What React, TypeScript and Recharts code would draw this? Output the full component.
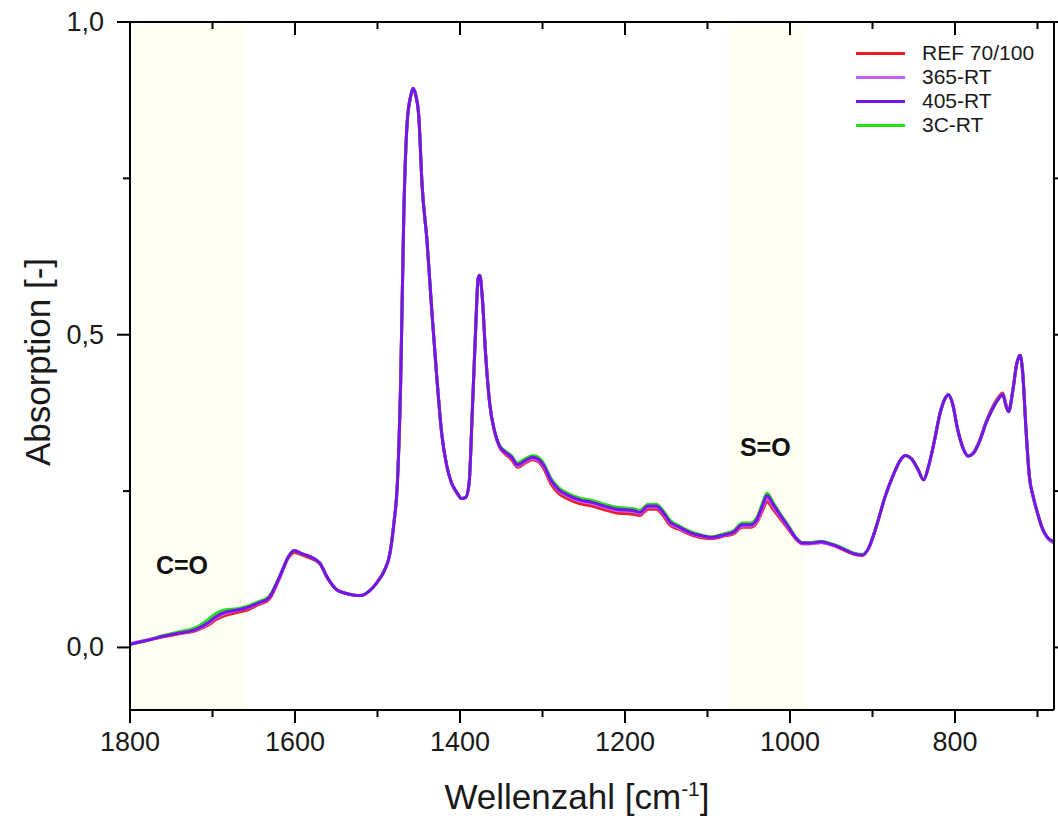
import React from 'react';
import { LineChart, Line, XAxis, YAxis, ReferenceArea, ReferenceDot, Legend } from 'recharts';

// wavenumbers in cm^-1 (x axis runs from 1800 down to 680)
const wavenumbers = [
  1800, 1780, 1760, 1740, 1720, 1705, 1695, 1685, 1670, 1660,
  1645, 1632, 1618, 1608, 1601, 1592, 1580, 1570, 1560, 1550,
  1540, 1530, 1520, 1510, 1500, 1492, 1485, 1480, 1476, 1472,
  1468, 1464, 1460, 1457, 1454, 1450, 1446, 1440, 1434, 1428,
  1422, 1416, 1410, 1404, 1398, 1393, 1389, 1385, 1381, 1378,
  1376, 1373, 1369, 1364, 1358, 1352, 1345, 1338, 1330, 1322,
  1312, 1305, 1298, 1290, 1280, 1270, 1255, 1240, 1225, 1210,
  1200, 1190, 1182, 1172, 1162, 1155, 1145, 1135, 1120, 1105,
  1095, 1080, 1068, 1058, 1048, 1040, 1033, 1028, 1020, 1012,
  1002, 994, 985, 975, 962, 950, 940, 930, 920, 912,
  905, 895, 885, 875, 866, 860, 853, 845, 838, 832,
  825, 818, 812, 808, 803, 797, 790, 784, 778, 770,
  762, 755, 748, 742, 738, 735, 730, 725, 721, 718,
  714, 710, 705, 700, 694, 688, 683, 680,
];

const ref70100 = [
  0.005, 0.011, 0.017, 0.022, 0.027, 0.036, 0.045, 0.051, 0.056, 0.059,
  0.068, 0.076, 0.113, 0.143, 0.152, 0.148, 0.142, 0.134, 0.109, 0.093,
  0.087, 0.084, 0.083, 0.090, 0.105, 0.122, 0.150, 0.200, 0.260, 0.420,
  0.700, 0.840, 0.880, 0.892, 0.884, 0.850, 0.740, 0.650, 0.535, 0.430,
  0.340, 0.290, 0.262, 0.248, 0.238, 0.240, 0.262, 0.380, 0.510, 0.590,
  0.595, 0.560, 0.470, 0.390, 0.345, 0.320, 0.309, 0.301, 0.288, 0.294,
  0.300, 0.297, 0.285, 0.262, 0.246, 0.238, 0.230, 0.226, 0.220, 0.215,
  0.214, 0.213, 0.211, 0.221, 0.221, 0.213, 0.195, 0.189, 0.180, 0.175,
  0.174, 0.178, 0.182, 0.192, 0.192, 0.200, 0.220, 0.233, 0.220, 0.206,
  0.189, 0.175, 0.166, 0.166, 0.168, 0.164, 0.159, 0.153, 0.148, 0.147,
  0.158, 0.195, 0.240, 0.275, 0.300, 0.307, 0.302, 0.285, 0.268, 0.290,
  0.330, 0.375, 0.398, 0.404, 0.390, 0.350, 0.318, 0.306, 0.311, 0.332,
  0.362, 0.383, 0.399, 0.407, 0.388, 0.379, 0.410, 0.455, 0.467, 0.440,
  0.350, 0.275, 0.240, 0.215, 0.190, 0.176, 0.170, 0.168,
];

const rt365 = [
  0.006, 0.012, 0.018, 0.023, 0.028, 0.038, 0.048, 0.054, 0.059, 0.062,
  0.070, 0.078, 0.115, 0.145, 0.155, 0.150, 0.144, 0.135, 0.110, 0.093,
  0.087, 0.084, 0.083, 0.090, 0.105, 0.122, 0.150, 0.200, 0.260, 0.420,
  0.700, 0.840, 0.880, 0.894, 0.885, 0.850, 0.740, 0.650, 0.535, 0.430,
  0.340, 0.290, 0.262, 0.248, 0.238, 0.240, 0.262, 0.380, 0.510, 0.590,
  0.595, 0.560, 0.470, 0.390, 0.345, 0.321, 0.311, 0.304, 0.290, 0.296,
  0.302, 0.299, 0.288, 0.266, 0.250, 0.242, 0.234, 0.230, 0.224, 0.219,
  0.218, 0.217, 0.214, 0.224, 0.224, 0.216, 0.198, 0.191, 0.182, 0.177,
  0.175, 0.179, 0.184, 0.194, 0.194, 0.202, 0.224, 0.238, 0.224, 0.209,
  0.191, 0.176, 0.166, 0.166, 0.168, 0.164, 0.160, 0.154, 0.149, 0.148,
  0.158, 0.195, 0.240, 0.275, 0.300, 0.307, 0.302, 0.285, 0.268, 0.290,
  0.330, 0.375, 0.398, 0.404, 0.390, 0.350, 0.318, 0.306, 0.310, 0.331,
  0.361, 0.381, 0.397, 0.405, 0.386, 0.378, 0.410, 0.455, 0.467, 0.440,
  0.350, 0.275, 0.240, 0.215, 0.190, 0.175, 0.169, 0.167,
];

const rt405 = [
  0.005, 0.011, 0.018, 0.023, 0.029, 0.040, 0.050, 0.056, 0.060, 0.063,
  0.071, 0.079, 0.115, 0.145, 0.155, 0.150, 0.144, 0.135, 0.110, 0.093,
  0.087, 0.084, 0.083, 0.090, 0.105, 0.122, 0.150, 0.200, 0.260, 0.420,
  0.700, 0.840, 0.880, 0.894, 0.885, 0.850, 0.740, 0.650, 0.535, 0.430,
  0.340, 0.290, 0.262, 0.248, 0.238, 0.240, 0.262, 0.380, 0.510, 0.590,
  0.595, 0.560, 0.470, 0.390, 0.345, 0.322, 0.312, 0.305, 0.292, 0.298,
  0.304, 0.301, 0.290, 0.268, 0.252, 0.244, 0.236, 0.232, 0.226, 0.221,
  0.220, 0.219, 0.216, 0.226, 0.226, 0.218, 0.200, 0.193, 0.183, 0.178,
  0.176, 0.180, 0.185, 0.196, 0.196, 0.205, 0.228, 0.243, 0.228, 0.212,
  0.193, 0.177, 0.167, 0.167, 0.169, 0.165, 0.160, 0.154, 0.149, 0.148,
  0.158, 0.195, 0.240, 0.275, 0.300, 0.307, 0.302, 0.285, 0.268, 0.290,
  0.330, 0.375, 0.398, 0.404, 0.390, 0.350, 0.318, 0.306, 0.310, 0.330,
  0.360, 0.380, 0.396, 0.404, 0.385, 0.377, 0.410, 0.455, 0.467, 0.440,
  0.350, 0.275, 0.240, 0.215, 0.190, 0.176, 0.171, 0.170,
];

const rt3c = [
  0.005, 0.011, 0.019, 0.025, 0.032, 0.045, 0.055, 0.060, 0.062, 0.065,
  0.073, 0.081, 0.116, 0.145, 0.155, 0.150, 0.144, 0.135, 0.110, 0.093,
  0.087, 0.084, 0.083, 0.090, 0.105, 0.122, 0.150, 0.200, 0.260, 0.420,
  0.700, 0.840, 0.880, 0.894, 0.885, 0.850, 0.740, 0.650, 0.535, 0.430,
  0.340, 0.290, 0.262, 0.248, 0.238, 0.240, 0.262, 0.380, 0.510, 0.590,
  0.595, 0.560, 0.470, 0.390, 0.345, 0.323, 0.314, 0.307, 0.295, 0.301,
  0.307, 0.304, 0.293, 0.271, 0.255, 0.247, 0.239, 0.235, 0.229, 0.224,
  0.223, 0.222, 0.219, 0.229, 0.229, 0.221, 0.203, 0.195, 0.185, 0.179,
  0.177, 0.182, 0.187, 0.199, 0.199, 0.208, 0.232, 0.247, 0.231, 0.214,
  0.195, 0.178, 0.168, 0.168, 0.170, 0.166, 0.161, 0.155, 0.150, 0.149,
  0.158, 0.195, 0.240, 0.275, 0.300, 0.307, 0.302, 0.285, 0.268, 0.290,
  0.330, 0.375, 0.398, 0.404, 0.390, 0.350, 0.318, 0.306, 0.310, 0.330,
  0.360, 0.380, 0.396, 0.404, 0.385, 0.377, 0.410, 0.455, 0.467, 0.440,
  0.350, 0.275, 0.240, 0.215, 0.190, 0.176, 0.171, 0.170,
];

const xTicks = [1800, 1700, 1600, 1500, 1400, 1300, 1200, 1100, 1000, 900, 800, 700];
const yTicks = [0, 0.25, 0.5, 0.75, 1.0];

// shaded bands (cm^-1)
const bandCO = [1800, 1660];
const bandSO = [1075, 980];

const data = wavenumbers.map((wn, i) => ({
  wn,
  ref: ref70100[i],
  rt365: rt365[i],
  rt405: rt405[i],
  rt3c: rt3c[i],
}));

// legend order as in the figure
const legendItems = [
  { name: 'REF 70/100', color: '#ee1c24' },
  { name: '365-RT', color: '#c55df0' },
  { name: '405-RT', color: '#7a12f0' },
  { name: '3C-RT', color: '#22e01a' },
];

const FONT = '"Liberation Sans", Arial, sans-serif';
const TEXT = '#1a1a1a';

const isMajorX = (v: number) => v % 200 === 0;
const isMajorY = (v: number) => Math.abs((v * 2) - Math.round(v * 2)) < 1e-6;

const BottomTick = ({ x, y, payload }: any) => {
  const major = isMajorX(payload.value);
  return (
    <g>
      <line x1={x} x2={x} y1={y} y2={y + (major ? 13 : 7)} stroke="#000" strokeWidth={2} />
      {major && (
        <text x={x} y={y + 41} textAnchor="middle" fontSize={27} fill={TEXT}>
          {payload.value}
        </text>
      )}
    </g>
  );
};

const TopTick = ({ x, y, payload }: any) => {
  const major = isMajorX(payload.value);
  return <line x1={x} x2={x} y1={y} y2={y + (major ? 13 : 7)} stroke="#000" strokeWidth={2} />;
};

const LeftTick = ({ x, y, payload }: any) => {
  const major = isMajorY(payload.value);
  return (
    <g>
      <line x1={x - (major ? 13 : 7)} x2={x} y1={y} y2={y} stroke="#000" strokeWidth={2} />
      {major && (
        <text x={x - 26} y={y + 9} textAnchor="end" fontSize={27} fill={TEXT}>
          {payload.value.toFixed(1).replace('.', ',')}
        </text>
      )}
    </g>
  );
};

const RightTick = ({ x, y, payload }: any) => {
  const major = isMajorY(payload.value);
  return <line x1={x} x2={x + (major ? 13 : 7)} y1={y} y2={y} stroke="#000" strokeWidth={2} />;
};

const LegendBox = () => (
  <div style={{ fontFamily: FONT }}>
    {legendItems.map((item) => (
      <div key={item.name} style={{ display: 'flex', alignItems: 'center', height: 24 }}>
        <span style={{ display: 'inline-block', width: 49, height: 3, background: item.color, marginRight: 17 }} />
        <span style={{ fontSize: 21, color: TEXT }}>{item.name}</span>
      </div>
    ))}
  </div>
);

const axisLine = { stroke: '#000', strokeWidth: 2 };

export default function App() {
  return (
    <div style={{ position: 'relative', width: 1058, height: 823, background: '#fff', fontFamily: FONT }}>
      <style>{'body{margin:0}'}</style>
      <LineChart width={1058} height={823} data={data} margin={{ top: 0, right: 0, bottom: 0, left: 0 }}>
        <XAxis
          xAxisId="bottom"
          type="number"
          dataKey="wn"
          domain={[680, 1800]}
          reversed
          allowDataOverflow
          ticks={xTicks}
          interval={0}
          height={113}
          tickSize={0}
          tickMargin={0}
          tickLine={false}
          axisLine={axisLine}
          tick={BottomTick}
        />
        <XAxis
          xAxisId="top"
          orientation="top"
          type="number"
          dataKey="wn"
          domain={[680, 1800]}
          reversed
          allowDataOverflow
          ticks={xTicks}
          interval={0}
          height={22}
          tickSize={0}
          tickMargin={0}
          tickLine={false}
          axisLine={axisLine}
          tick={TopTick}
        />
        <YAxis
          yAxisId="left"
          type="number"
          domain={[-0.1, 1.0]}
          allowDataOverflow
          ticks={yTicks}
          interval={0}
          width={130}
          tickSize={0}
          tickMargin={0}
          tickLine={false}
          axisLine={axisLine}
          tick={LeftTick}
        />
        <YAxis
          yAxisId="right"
          orientation="right"
          type="number"
          domain={[-0.1, 1.0]}
          allowDataOverflow
          ticks={yTicks}
          interval={0}
          width={4}
          tickSize={0}
          tickMargin={0}
          tickLine={false}
          axisLine={axisLine}
          tick={RightTick}
        />
        <ReferenceArea xAxisId="bottom" yAxisId="left" x1={bandCO[0]} x2={bandCO[1]} y1={-0.1} y2={1.0} fill="#fefef3" fillOpacity={1} stroke="none" />
        <ReferenceArea xAxisId="bottom" yAxisId="left" x1={bandSO[0]} x2={bandSO[1]} y1={-0.1} y2={1.0} fill="#fefef3" fillOpacity={1} stroke="none" />
        <ReferenceDot
          xAxisId="bottom"
          yAxisId="left"
          x={1737}
          y={0.131}
          r={0}
          fill="none"
          stroke="none"
          label={{ value: 'C=O', position: 'center', fontSize: 25, fontWeight: 'bold', fill: '#111' }}
        />
        <ReferenceDot
          xAxisId="bottom"
          yAxisId="left"
          x={1030}
          y={0.32}
          r={0}
          fill="none"
          stroke="none"
          label={{ value: 'S=O', position: 'center', fontSize: 25, fontWeight: 'bold', fill: '#111' }}
        />
        <Line xAxisId="bottom" yAxisId="left" type="monotone" dataKey="ref" name="REF 70/100" stroke="#ee1c24" strokeWidth={3} dot={false} isAnimationActive={false} />
        <Line xAxisId="bottom" yAxisId="left" type="monotone" dataKey="rt365" name="365-RT" stroke="#c55df0" strokeWidth={3} dot={false} isAnimationActive={false} />
        <Line xAxisId="bottom" yAxisId="left" type="monotone" dataKey="rt3c" name="3C-RT" stroke="#22e01a" strokeWidth={3} dot={false} isAnimationActive={false} />
        <Line xAxisId="bottom" yAxisId="left" type="monotone" dataKey="rt405" name="405-RT" stroke="#7a12f0" strokeWidth={3} dot={false} isAnimationActive={false} />
        <Legend
          layout="vertical"
          align="center"
          verticalAlign="middle"
          wrapperStyle={{ top: 41, left: 856, width: 200 }}
          content={LegendBox}
        />
      </LineChart>
      <div
        style={{
          position: 'absolute',
          left: 38,
          top: 362,
          transform: 'translate(-50%, -50%) rotate(-90deg)',
          whiteSpace: 'nowrap',
          fontSize: 35,
          color: TEXT,
        }}
      >
        Absorption [-]
      </div>
      <div
        style={{
          position: 'absolute',
          left: 577,
          top: 797,
          transform: 'translate(-50%, -50%)',
          whiteSpace: 'nowrap',
          fontSize: 35,
          color: TEXT,
        }}
      >
        Wellenzahl [cm<sup style={{ fontSize: 21 }}>-1</sup>]
      </div>
    </div>
  );
}
